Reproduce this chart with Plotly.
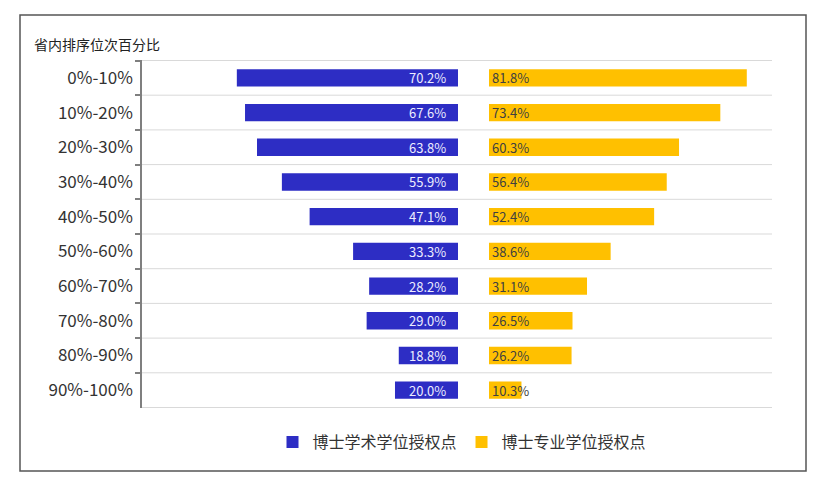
import plotly.graph_objects as go

categories = ["0%-10%", "10%-20%", "20%-30%", "30%-40%", "40%-50%",
              "50%-60%", "60%-70%", "70%-80%", "80%-90%", "90%-100%"]
academic = [70.2, 67.6, 63.8, 55.9, 47.1, 33.3, 28.2, 29.0, 18.8, 20.0]
professional = [81.8, 73.4, 60.3, 56.4, 52.4, 38.6, 31.1, 26.5, 26.2, 10.3]
series_names = ["博士学术学位授权点", "博士专业学位授权点"]
title_text = "省内排序位次百分比"

BLUE = "#2d2dc4"
GOLD = "#ffc000"
FONT = "Noto Sans CJK SC"

# page body has an 8px margin: work in reference pixels minus 8
OFF = 8
W, H = 831 - OFF, 479 - OFF
L, T = 142 - OFF, 60 - OFF
PR, PB = 772 - OFF, 408 - OFF
R, B = W - PR, H - PB
pw, ph = PR - L, PB - T

def px_x(x):
    return (x - OFF - L) / pw

def px_y(y):
    return 1 - (y - OFF - T) / ph

NB = "\u00a0"

fig = go.Figure()
fig.add_trace(go.Bar(
    y=categories, x=academic, orientation="h", name=series_names[0],
    marker=dict(color=BLUE, line=dict(width=0)), width=0.5,
    text=[f"{v:.1f}%" + NB * 3 for v in academic], textposition="inside",
    insidetextanchor="start", textangle=0, constraintext="none",
    textfont=dict(family=FONT, size=13, color="#ececff"),
    xaxis="x", yaxis="y",
))
fig.add_trace(go.Bar(
    y=categories, x=professional, orientation="h", name=series_names[1],
    marker=dict(color=GOLD, line=dict(width=0)), width=0.5,
    text=[f"{v:.1f}%" for v in professional], textposition="inside",
    insidetextanchor="start", textangle=0, constraintext="none",
    textfont=dict(family=FONT, size=13, color="#404040"),
    xaxis="x2", yaxis="y", cliponaxis=False,
))

shapes = []
for i in range(len(categories) + 1):
    shapes.append(dict(type="line", xref="paper", yref="y",
                       x0=0, x1=1, y0=i - 0.5, y1=i - 0.5,
                       line=dict(color="#d9d9d9", width=1), layer="below"))
# outer border
shapes.append(dict(type="rect", xref="paper", yref="paper",
                   x0=px_x(20), x1=px_x(806), y0=px_y(471), y1=px_y(15),
                   line=dict(color="#555555", width=1.5), layer="below"))

fig.update_layout(
    width=W, height=H,
    margin=dict(l=L, r=R, t=T, b=B),
    paper_bgcolor="white", plot_bgcolor="white",
    font=dict(family=FONT, color="#333333"),
    barmode="overlay",
    showlegend=True,
    legend=dict(orientation="h", x=px_x(462), xanchor="center",
                y=px_y(442), yanchor="middle",
                font=dict(family=FONT, size=16, color="#333333"),
                itemwidth=30, bgcolor="rgba(0,0,0,0)"),
    xaxis=dict(domain=[0, px_x(458)], range=[100.3, 0], visible=False,
               fixedrange=True),
    xaxis2=dict(domain=[px_x(489), 1], range=[0, 89.8], visible=False,
                fixedrange=True),
    yaxis=dict(type="category", categoryorder="array", categoryarray=categories,
               autorange="reversed", showgrid=False, zeroline=False,
               showline=True, linecolor="#7f7f7f", linewidth=1.5,
               ticks="outside", ticklen=5, tickcolor="#7f7f7f", tickwidth=1.5,
               tickson="boundaries", ticklabelstandoff=4,
               tickfont=dict(family=FONT, size=17, color="#333333"),
               anchor="x"),
    shapes=shapes,
    annotations=[dict(text=title_text, xref="paper", yref="paper",
                      x=px_x(32), y=px_y(44), xanchor="left", yanchor="middle",
                      showarrow=False,
                      font=dict(family=FONT, size=14, color="#222222"))],
)

fig.write_html("out.html")
